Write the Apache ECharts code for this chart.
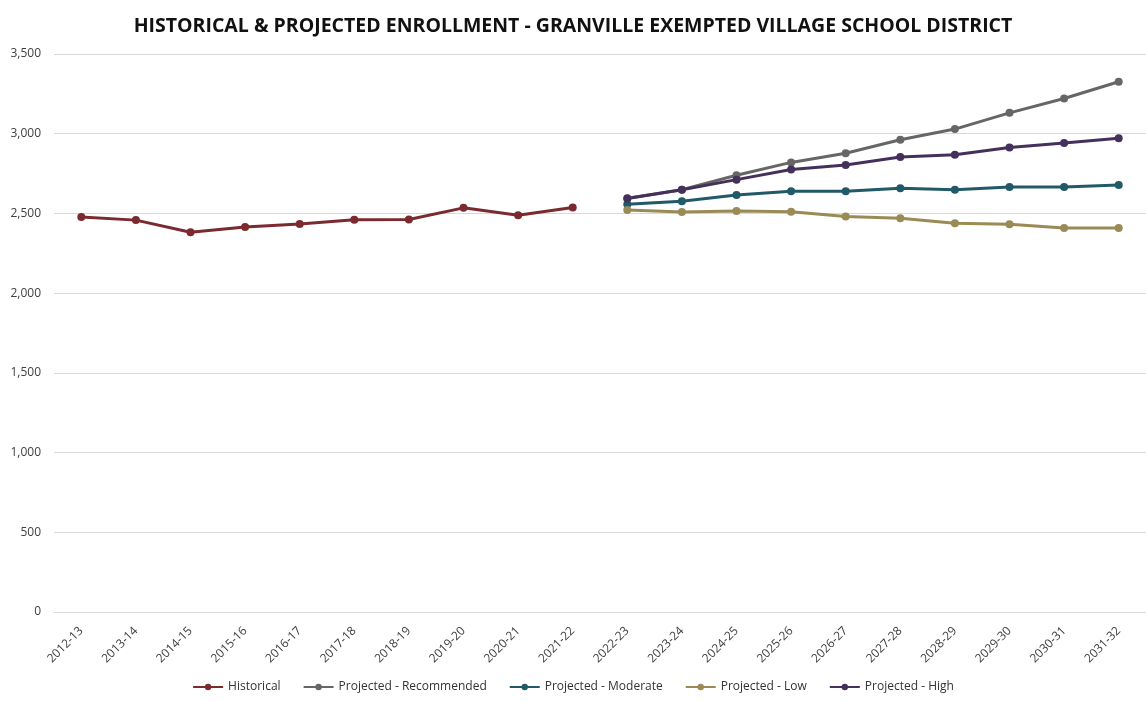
<!DOCTYPE html>
<html>
<head>
<meta charset="utf-8">
<script src="https://cdn.jsdelivr.net/npm/echarts@6/dist/echarts.min.js"></script>
<style>html,body{margin:0;padding:0;background:#fff}#c{width:1146px;height:702px}</style>
</head>
<body>
<div id="c"></div>
<script>
const categories = ["2012-13","2013-14","2014-15","2015-16","2016-17","2017-18","2018-19","2019-20","2020-21","2021-22","2022-23","2023-24","2024-25","2025-26","2026-27","2027-28","2028-29","2029-30","2030-31","2031-32"];
const historical = [2478,2458,2382,2415,2434,2460,2462,2535,2488,2537,null,null,null,null,null,null,null,null,null,null];
const recommended = [null,null,null,null,null,null,null,null,null,null,2595,2649,2739,2820,2877,2962,3029,3131,3221,3326];
const moderate = [null,null,null,null,null,null,null,null,null,null,2557,2576,2616,2639,2639,2658,2649,2666,2666,2679];
const low = [null,null,null,null,null,null,null,null,null,null,2522,2509,2516,2511,2480,2470,2438,2432,2409,2409];
const high = [null,null,null,null,null,null,null,null,null,null,2594,2649,2712,2775,2804,2854,2868,2914,2942,2971];
const yTicks = [0,500,1000,1500,2000,2500,3000,3500];

const font = "'Open Sans', sans-serif";
function mk(name, data, color){
  return {name, type:'line', data, color, symbol:'circle', symbolSize:8,
    lineStyle:{width:3, color}, itemStyle:{color}, connectNulls:false};
}
const chart = echarts.init(document.getElementById('c'), null, {renderer:'canvas'});
chart.setOption({
  animation:false,
  backgroundColor:'#fff',
  title:{text:'HISTORICAL & PROJECTED ENROLLMENT - GRANVILLE EXEMPTED VILLAGE SCHOOL DISTRICT',
    left:'center', top:11, textStyle:{fontFamily:font, fontWeight:'bold', fontSize:19.5, color:'#111'}},
  grid:{left:54, right:0, top:54, bottom:90, containLabel:false},
  legend:{bottom:4, left:'center', itemWidth:30, itemHeight:8, itemGap:22,
    textStyle:{fontFamily:font, fontSize:12, color:'#333'},
    data:['Historical','Projected - Recommended','Projected - Moderate','Projected - Low','Projected - High']},
  xAxis:{type:'category', data:categories, boundaryGap:true,
    axisLine:{show:true, lineStyle:{color:'#d9d9d9'}}, axisTick:{show:false},
    axisLabel:{rotate:45, interval:0, fontFamily:font, fontSize:12, color:'#404040', margin:17}},
  yAxis:{type:'value', min:yTicks[0], max:yTicks[yTicks.length-1], interval:500,
    axisLine:{show:false}, axisTick:{show:false},
    splitLine:{lineStyle:{color:'#d9d9d9'}},
    axisLabel:{fontFamily:font, fontSize:12, color:'#404040', margin:13,
      formatter:v=>v.toLocaleString('en-US')}},
  series:[
    mk('Historical', historical, '#7b2a2f'),
    mk('Projected - Recommended', recommended, '#666666'),
    mk('Projected - Moderate', moderate, '#215968'),
    mk('Projected - Low', low, '#9a8a56'),
    mk('Projected - High', high, '#45305c')
  ]
});
</script>
</body>
</html>
